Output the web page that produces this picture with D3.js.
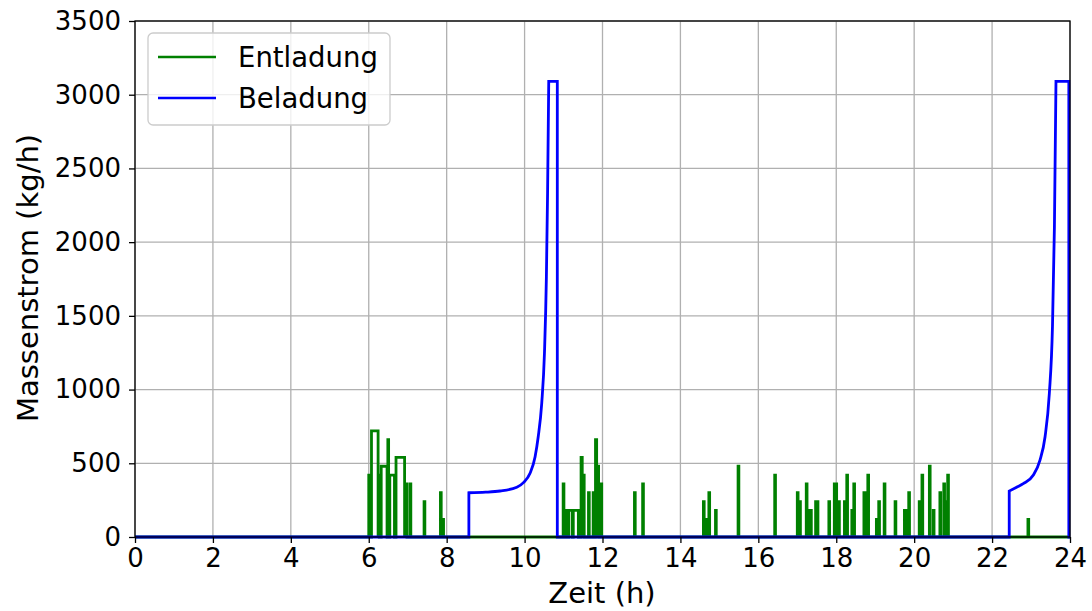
<!DOCTYPE html>
<html>
<head>
<meta charset="utf-8">
<script src="https://cdn.jsdelivr.net/npm/d3@7"></script>
<style>
  html, body { margin: 0; padding: 0; background: #fff; }
  svg { display: block; font-family: "DejaVu Sans", sans-serif; }
</style>
</head>
<body>
<svg id="chart" width="1092" height="611"></svg>
<script>
// Discharge pulses (Entladung): start time (h), end time (h), mass flow (kg/h)
const entStart = [6.00, 6.07, 6.24, 6.32, 6.49, 6.54, 6.70, 6.92, 7.06, 7.42, 7.84, 7.88,
  10.99, 11.03, 11.13, 11.25, 11.45, 11.48, 11.64, 11.76, 11.82, 11.85, 11.95,
  12.82, 13.03, 14.59, 14.67, 14.73, 14.90, 15.48, 16.42,
  17.00, 17.06, 17.23, 17.32, 17.47, 17.81, 17.95, 18.06, 18.21, 18.27, 18.40, 18.45,
  18.71, 18.81, 19.03, 19.09, 19.23, 19.51, 19.75, 19.86, 20.13, 20.20, 20.39, 20.49,
  20.66, 20.76, 20.79, 20.86, 22.92];
const entEnd = [6.02, 6.24, 6.27, 6.47, 6.51, 6.66, 6.92, 6.98, 7.08, 7.44, 7.86, 7.92,
  11.01, 11.10, 11.22, 11.38, 11.48, 11.53, 11.66, 11.80, 11.85, 11.90, 11.98,
  12.84, 13.05, 14.61, 14.70, 14.75, 14.92, 15.50, 16.44,
  17.02, 17.08, 17.25, 17.36, 17.53, 17.83, 18.01, 18.08, 18.23, 18.29, 18.42, 18.47,
  18.78, 18.83, 19.05, 19.11, 19.25, 19.53, 19.80, 19.88, 20.15, 20.22, 20.41, 20.51,
  20.68, 20.78, 20.81, 20.88, 22.94];
const entValue = [420, 720, 420, 480, 660, 420, 540, 360, 360, 240, 300, 120,
  360, 180, 180, 180, 540, 420, 300, 300, 660, 480, 360,
  300, 360, 240, 120, 300, 180, 480, 420,
  300, 240, 360, 180, 240, 240, 360, 240, 240, 420, 180, 360,
  300, 420, 120, 240, 360, 240, 180, 300, 240, 420, 480, 180,
  300, 360, 240, 420, 120];

// Charging cycles (Beladung): switch-on / switch-off time (h), plateau value,
// and the rising flow read along each cycle
const belOn = [8.57, 22.44];
const belOff = [10.84, 23.97];
const belCurveTime = [
  [8.57, 9.0, 9.37, 9.80, 9.97, 10.14, 10.27, 10.35, 10.44, 10.51, 10.56, 10.59, 10.62],
  [22.44, 22.63, 22.80, 23.06, 23.23, 23.36, 23.47, 23.55, 23.60, 23.64]
];
const belCurveValue = [
  [300, 304, 312, 337, 369, 432, 545, 680, 907, 1246, 1766, 2332, 3090],
  [312, 338, 362, 420, 522, 680, 975, 1427, 2105, 3090]
];
const belPeak = [3090, 3090];

const xTicks = [0, 2, 4, 6, 8, 10, 12, 14, 16, 18, 20, 22, 24];
const yTicks = [0, 500, 1000, 1500, 2000, 2500, 3000, 3500];
const seriesNames = ["Entladung", "Beladung"];
const seriesColors = ["#008000", "#0000ff"];

const svg = d3.select("#chart");
const m = { left: 135, right: 1070, top: 21, bottom: 537 };

const x = d3.scaleLinear().domain([0, 24]).range([m.left, m.right]);
const y = d3.scaleLinear().domain([0, 3500]).range([m.bottom, m.top]);

// grid
const grid = svg.append("g").attr("stroke", "#b0b0b0").attr("stroke-width", 1.3);
grid.selectAll("line.gx").data(xTicks).join("line")
  .attr("x1", d => x(d)).attr("x2", d => x(d))
  .attr("y1", m.top).attr("y2", m.bottom);
grid.selectAll("line.gy").data(yTicks).join("line")
  .attr("x1", m.left).attr("x2", m.right)
  .attr("y1", d => y(d)).attr("y2", d => y(d));

// discharge line
const entPts = [[0, 0]];
entStart.forEach((s, i) => {
  entPts.push([s, 0], [s, entValue[i]], [entEnd[i], entValue[i]], [entEnd[i], 0]);
});
entPts.push([24, 0]);
const lin = d3.line().x(d => x(d[0])).y(d => y(d[1]));
svg.append("path").attr("d", lin(entPts))
  .attr("fill", "none").attr("stroke", seriesColors[0])
  .attr("stroke-width", 2.8).attr("stroke-linejoin", "miter");

// charge line: linear steps joined with smooth rising segments
const smooth = d3.line().x(d => x(d[0])).y(d => y(d[1])).curve(d3.curveMonotoneX);
let belPath = lin([[0, 0], [belOn[0], 0]]);
belOn.forEach((on, i) => {
  const curve = belCurveTime[i].map((t, j) => [t, belCurveValue[i][j]]);
  belPath += lin([[belOn[i], 0], curve[0]]).replace(/^M[^L]*/, "");
  belPath += smooth(curve).replace(/^M/, "L");
  const tail = [curve[curve.length - 1], [belOff[i], belPeak[i]], [belOff[i], 0],
    [i + 1 < belOn.length ? belOn[i + 1] : 24, 0]];
  belPath += lin(tail).replace(/^M[^L]*/, "");
});
svg.append("path").attr("d", belPath)
  .attr("fill", "none").attr("stroke", seriesColors[1])
  .attr("stroke-width", 2.8).attr("stroke-linejoin", "miter");

// frame
svg.append("rect").attr("x", m.left).attr("y", m.top)
  .attr("width", m.right - m.left).attr("height", m.bottom - m.top)
  .attr("fill", "none").attr("stroke", "#000").attr("stroke-width", 1.3);

// axes
const xAxis = svg.append("g").attr("transform", `translate(0,${m.bottom})`)
  .call(d3.axisBottom(x).tickValues(xTicks).tickFormat(d3.format("d")).tickSize(6).tickPadding(6));
const yAxis = svg.append("g").attr("transform", `translate(${m.left},0)`)
  .call(d3.axisLeft(y).tickValues(yTicks).tickFormat(d3.format("d")).tickSize(6).tickPadding(8));
[xAxis, yAxis].forEach(a => {
  a.select(".domain").remove();
  a.selectAll(".tick line").attr("stroke", "#000").attr("stroke-width", 1.3);
  a.selectAll(".tick text").attr("fill", "#000")
    .style("font-family", "'DejaVu Sans', sans-serif").style("font-size", "26px");
});

svg.append("text").attr("x", 602).attr("y", 603)
  .attr("text-anchor", "middle").style("font-size", "29px").text("Zeit (h)");
svg.append("text")
  .attr("transform", `translate(38,${278}) rotate(-90)`)
  .attr("text-anchor", "middle").style("font-size", "29px").text("Massenstrom (kg/h)");

// legend
const lg = svg.append("g");
lg.append("rect").attr("x", 148).attr("y", 33).attr("width", 242).attr("height", 92)
  .attr("rx", 5).attr("fill", "#fff").attr("fill-opacity", 0.8)
  .attr("stroke", "#cccccc").attr("stroke-width", 1.3);
seriesNames.forEach((name, i) => {
  const ly = 57 + i * 41;
  lg.append("line").attr("x1", 158).attr("x2", 216).attr("y1", ly).attr("y2", ly)
    .attr("stroke", seriesColors[i]).attr("stroke-width", 2.6);
  lg.append("text").attr("x", 238).attr("y", ly).attr("dy", "0.35em")
    .style("font-size", "27.5px").text(name);
});
</script>
</body>
</html>
